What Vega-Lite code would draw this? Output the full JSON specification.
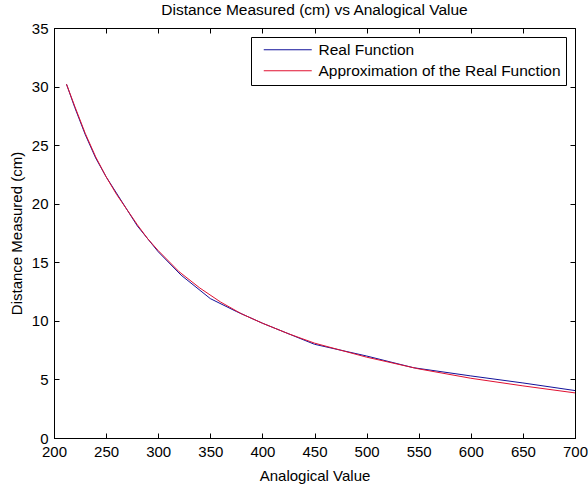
{
  "$schema": "https://vega.github.io/schema/vega-lite/v6.json",
  "autosize": {"type": "none"},
  "padding": {"left": 54, "top": 28, "right": 13, "bottom": 48},
  "width": 521,
  "height": 410,
  "background": "white",
  "config": {
    "font": "Liberation Sans",
    "view": {"stroke": "black", "strokeWidth": 1},
    "axis": {"grid": true, "gridColor": "black", "gridOpacity": 1, "gridWidth": 1, "domain": true, "domainColor": "black", "ticks": false, "labelColor": "black", "titleColor": "black", "labelFont": "Liberation Sans", "titleFont": "Liberation Sans", "labelFontSize": 15, "titleFontSize": 15, "titleFontWeight": "normal", "labelFlush": false, "labelOverlap": false},
    "axisX": {"labelPadding": 6, "gridDash": [5, 400, 5, 1000]},
    "axisY": {"labelPadding": 6, "gridDash": [5, 511, 5, 1000]}
  },
  "title": {"text": "Distance Measured (cm) vs Analogical Value", "fontSize": 15.5, "fontWeight": "normal", "font": "Liberation Sans", "color": "black", "offset": 3, "anchor": "middle"},
  "datasets": {
    "curves": [
      {"v": 212, "d": 30.2, "s": "Real Function"},
      {"v": 220, "d": 28.2, "s": "Real Function"},
      {"v": 230, "d": 25.9, "s": "Real Function"},
      {"v": 240, "d": 23.9, "s": "Real Function"},
      {"v": 250, "d": 22.3, "s": "Real Function"},
      {"v": 265, "d": 20.2, "s": "Real Function"},
      {"v": 280, "d": 18.1, "s": "Real Function"},
      {"v": 300, "d": 15.9, "s": "Real Function"},
      {"v": 322, "d": 13.9, "s": "Real Function"},
      {"v": 350, "d": 11.9, "s": "Real Function"},
      {"v": 375, "d": 10.8, "s": "Real Function"},
      {"v": 400, "d": 9.8, "s": "Real Function"},
      {"v": 450, "d": 8.0, "s": "Real Function"},
      {"v": 500, "d": 7.0, "s": "Real Function"},
      {"v": 545, "d": 6.0, "s": "Real Function"},
      {"v": 600, "d": 5.3, "s": "Real Function"},
      {"v": 650, "d": 4.7, "s": "Real Function"},
      {"v": 700, "d": 4.05, "s": "Real Function"},
      {"v": 212, "d": 30.2, "s": "Approximation of the Real Function"},
      {"v": 220, "d": 28.3, "s": "Approximation of the Real Function"},
      {"v": 230, "d": 26.0, "s": "Approximation of the Real Function"},
      {"v": 240, "d": 24.0, "s": "Approximation of the Real Function"},
      {"v": 250, "d": 22.3, "s": "Approximation of the Real Function"},
      {"v": 260, "d": 20.8, "s": "Approximation of the Real Function"},
      {"v": 270, "d": 19.5, "s": "Approximation of the Real Function"},
      {"v": 280, "d": 18.2, "s": "Approximation of the Real Function"},
      {"v": 290, "d": 17.0, "s": "Approximation of the Real Function"},
      {"v": 300, "d": 16.0, "s": "Approximation of the Real Function"},
      {"v": 320, "d": 14.2, "s": "Approximation of the Real Function"},
      {"v": 340, "d": 12.8, "s": "Approximation of the Real Function"},
      {"v": 360, "d": 11.6, "s": "Approximation of the Real Function"},
      {"v": 380, "d": 10.6, "s": "Approximation of the Real Function"},
      {"v": 400, "d": 9.8, "s": "Approximation of the Real Function"},
      {"v": 425, "d": 8.9, "s": "Approximation of the Real Function"},
      {"v": 450, "d": 8.1, "s": "Approximation of the Real Function"},
      {"v": 475, "d": 7.5, "s": "Approximation of the Real Function"},
      {"v": 500, "d": 6.9, "s": "Approximation of the Real Function"},
      {"v": 550, "d": 5.9, "s": "Approximation of the Real Function"},
      {"v": 600, "d": 5.1, "s": "Approximation of the Real Function"},
      {"v": 650, "d": 4.45, "s": "Approximation of the Real Function"},
      {"v": 700, "d": 3.85, "s": "Approximation of the Real Function"}
    ]
  },
  "data": {"name": "curves"},
  "mark": {"type": "line", "strokeWidth": 1, "interpolate": "linear"},
  "encoding": {
    "x": {"field": "v", "type": "quantitative", "scale": {"domain": [200, 700], "nice": false, "zero": false}, "axis": {"title": "Analogical Value", "orient": "bottom", "values": [200, 250, 300, 350, 400, 450, 500, 550, 600, 650, 700], "titlePadding": 9}},
    "y": {"field": "d", "type": "quantitative", "scale": {"domain": [0, 35], "nice": false}, "axis": {"title": "Distance Measured (cm)", "orient": "left", "values": [0, 5, 10, 15, 20, 25, 30, 35], "titlePadding": 7}},
    "color": {"field": "s", "type": "nominal", "sort": ["Real Function", "Approximation of the Real Function"], "scale": {"domain": ["Real Function", "Approximation of the Real Function"], "range": ["#12129a", "#e01030"]},
      "legend": {"title": null, "orient": "top-right", "offset": 9, "symbolType": "M0,0H8", "symbolSize": 144, "symbolStrokeWidth": 1, "symbolFillColor": "transparent", "labelFontSize": 15.5, "labelFont": "Liberation Sans", "labelColor": "black", "strokeColor": "black", "fillColor": "white", "padding": 5, "rowPadding": 4, "labelOffset": 47, "labelLimit": 400}},
    "detail": {"field": "s"}
  }
}
